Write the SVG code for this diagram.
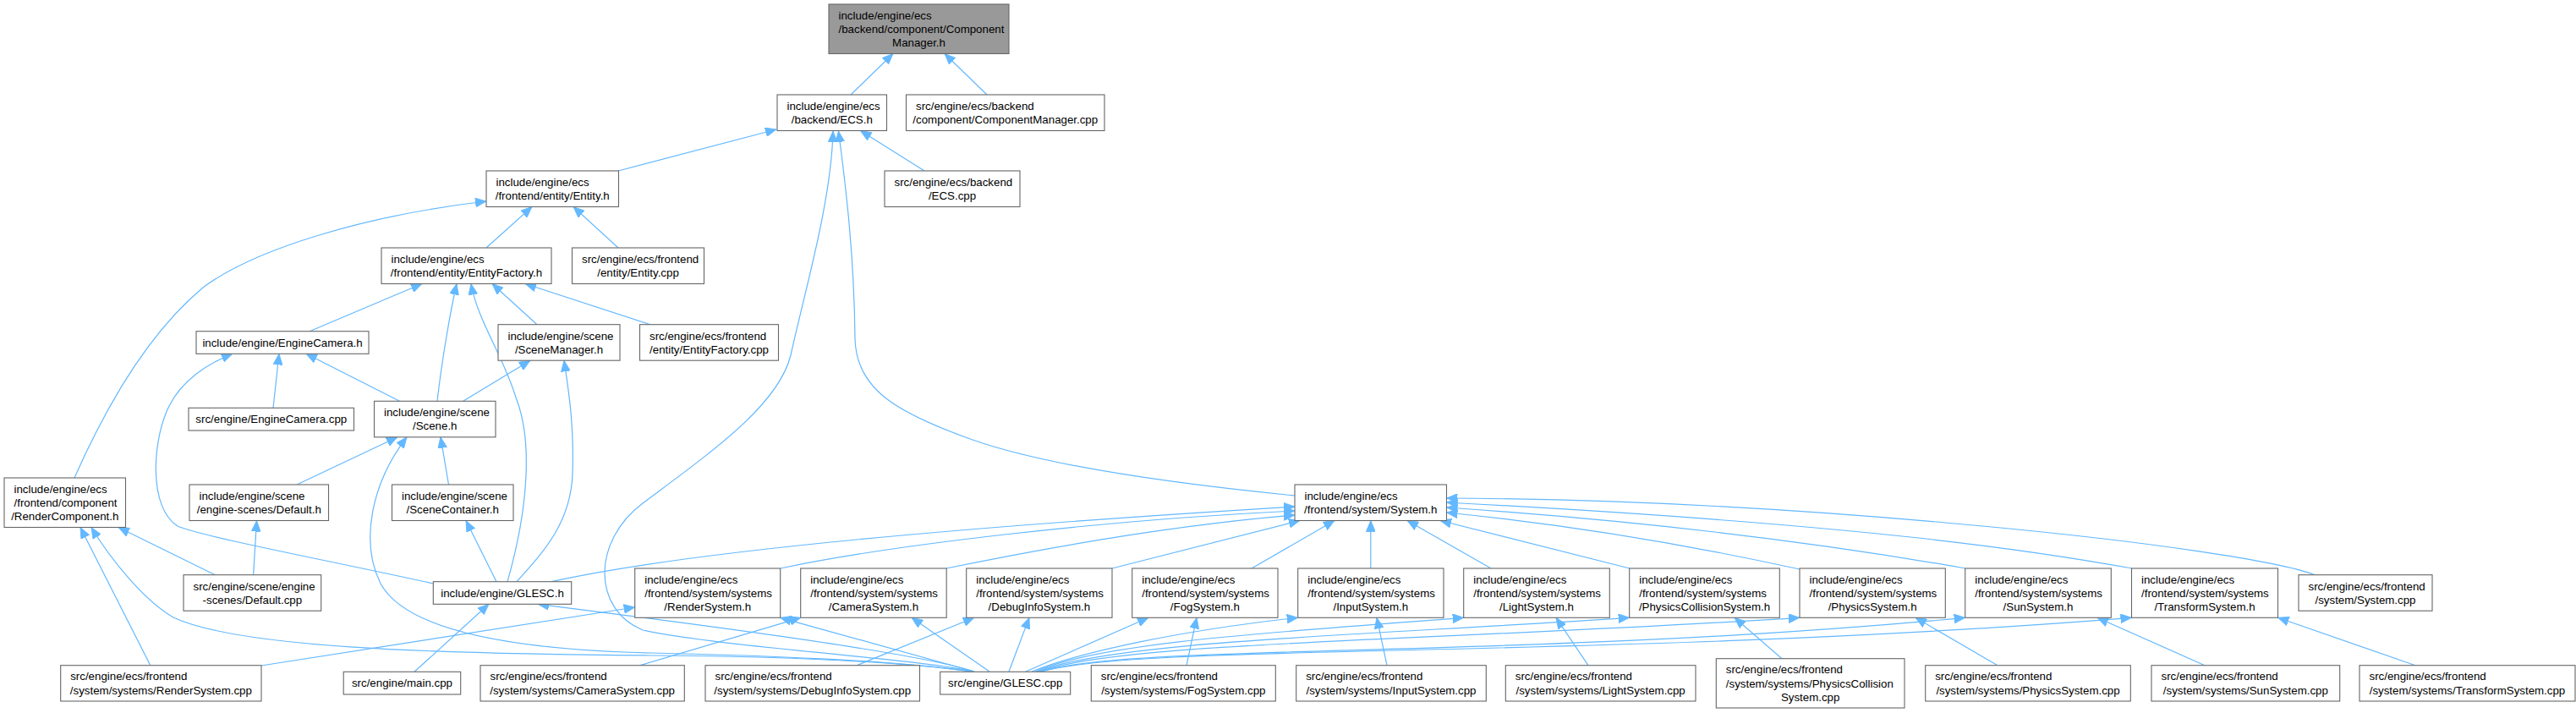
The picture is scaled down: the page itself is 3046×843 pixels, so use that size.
<svg xmlns="http://www.w3.org/2000/svg" width="3046" height="843" viewBox="0 0 3046 843">
<defs>
<style>
.n rect{fill:#ffffff;stroke:#666666;stroke-width:1.1}
.root rect{fill:#999999}
text{font-family:"Liberation Sans",Arial,Helvetica,sans-serif;font-size:13.3px;fill:#000000}
.m{text-anchor:middle}
#edges path{fill:none;stroke:#63b8ff;stroke-width:1.2;marker-end:url(#ah)}
</style>
<marker id="ah" markerUnits="userSpaceOnUse" markerWidth="14" markerHeight="11" refX="13" refY="5.5" orient="auto"><path d="M0,0 L13,5.5 L0,11 z" fill="#63b8ff" stroke="#63b8ff" stroke-width="0.8"/></marker>
</defs>
<rect x="0" y="0" width="3046" height="843" fill="#ffffff"/>
<g id="edges">
<path d="M1006 112 L1056 63.5"/>
<path d="M1167 112 L1117 63.5"/>
<path d="M731 202 L918 153"/>
<path d="M1093 202 L1017.5 154.5"/>
<path d="M1150 794 C1100 780,850 765,760 745 C700 720,700 640,760 595 C840 535,920 480,935 420 C950 350,983 240,985 155"/>
<path d="M1531 586 C1420 575,1250 555,1150 520 C1060 488,1012 460,1011 400 C1010 300,1000 220,991.5 155"/>
<path d="M575 293 L629 244.5"/>
<path d="M731 293 L678 244.5"/>
<path d="M88 565 C130 470,180 390,240 340 C300 295,430 255,575 238"/>
<path d="M366 391.7 L499 335.5"/>
<path d="M517 474.3 C522 430,532 370,540 335.5"/>
<path d="M600 687.7 C625 600,630 520,610 470 C595 420,565 380,557 335.5"/>
<path d="M635 383.7 L582 335.5"/>
<path d="M769 383.7 L621 335.5"/>
<path d="M323 482.3 L330 418.3"/>
<path d="M472.5 474.3 L362 418.3"/>
<path d="M512.3 690 C400 665,240 635,210 622 C175 600,180 520,200 480 C215 450,245 430,275 418.3"/>
<path d="M547.6 474.3 L627 426.2"/>
<path d="M611 687.7 C640 655,675 620,677 560 C679 500,672 460,667 426.2"/>
<path d="M351 573 L470 516.8"/>
<path d="M530.5 573 L521 516.8"/>
<path d="M1150 794 C1050 780,900 775,770 772 C600 768,480 745,450 690 C425 640,440 570,481 516.8"/>
<path d="M587 687.7 L551 615.5"/>
<path d="M299.6 679.7 L303.5 615.5"/>
<path d="M254.4 679.7 L140 623.5"/>
<path d="M177.8 786.7 L95 623.5"/>
<path d="M1148 794 C1050 780,900 776,770 775 C500 773,280 765,205 730 C170 710,130 660,108 623.5"/>
<path d="M490 794.3 L578 714.3"/>
<path d="M1152 794 C1110 780,1000 760,636 714.3"/>
<path d="M652 687.7 C800 655,1100 625,1531 599"/>
<path d="M923 672 C1050 645,1300 615,1531 604"/>
<path d="M1119 672 C1250 645,1400 620,1531 609"/>
<path d="M1315 672 L1537 615.5"/>
<path d="M1480 672 L1578 615.5"/>
<path d="M1620.8 672 L1620.8 615.5"/>
<path d="M1763 672 L1664 615.5"/>
<path d="M1927 672 L1703 615.5"/>
<path d="M2128 673 C2000 645,1850 620,1710.5 606"/>
<path d="M2324 672 C2200 650,2000 620,1710.5 600"/>
<path d="M2521 672 C2400 650,2200 620,1710.5 594"/>
<path d="M2737 679.7 C2700 665,2550 640,2300 618 C2100 600,1900 590,1710.5 589"/>
<path d="M309 787 L750.7 718"/>
<path d="M1152 794 L922.7 730.3"/>
<path d="M757 786.7 L946.7 730.3"/>
<path d="M1170 794 L1078 730.3"/>
<path d="M1013 786.7 L1152 730.3"/>
<path d="M1193 794 L1217 730.3"/>
<path d="M1213 794 L1358 730.3"/>
<path d="M1403 786.7 L1415 730.3"/>
<path d="M1220 794 C1280 770,1400 745,1534.7 730.3"/>
<path d="M1640 786.7 L1628 730.3"/>
<path d="M1224 794 C1300 760,1500 748,1730.7 730.3"/>
<path d="M1878 786.7 L1840 730.3"/>
<path d="M1226 794 C1320 758,1600 752,1926.7 730.3"/>
<path d="M2107 778.7 L2051 730.3"/>
<path d="M1228 794 C1330 758,1700 758,2128 730.3"/>
<path d="M2362 786.7 L2265 730.3"/>
<path d="M1230 794 C1340 760,1800 780,2323.7 730.3"/>
<path d="M2607 786.7 L2480 730.3"/>
<path d="M1232 794 C1350 760,1900 780,2520.5 730.3"/>
<path d="M2856 786.7 L2693.5 730.3"/>
</g>

<g id="ComponentManager_h" class="n root"><rect x="980" y="5" width="213" height="58.5"/><text x="991.5" y="22.7">include/engine/ecs</text><text x="991.5" y="38.95">/backend/component/Component</text><text class="m" x="1086.5" y="55.2">Manager.h</text></g>
<g id="ECS_h" class="n"><rect x="919" y="112" width="129.5" height="42.5"/><text x="930.5" y="129.8">include/engine/ecs</text><text class="m" x="983.75" y="146.1">/backend/ECS.h</text></g>
<g id="ComponentManager_cpp" class="n"><rect x="1071.5" y="112" width="234.5" height="42.5"/><text x="1083" y="129.8">src/engine/ecs/backend</text><text class="m" x="1188.75" y="146.1">/component/ComponentManager.cpp</text></g>
<g id="ECS_cpp" class="n"><rect x="1046" y="202" width="160" height="42.5"/><text x="1057.5" y="219.8">src/engine/ecs/backend</text><text class="m" x="1126" y="236.1">/ECS.cpp</text></g>
<g id="Entity_h" class="n"><rect x="575" y="202" width="156.5" height="42.5"/><text x="586.5" y="219.8">include/engine/ecs</text><text class="m" x="653.25" y="236.1">/frontend/entity/Entity.h</text></g>
<g id="EntityFactory_h" class="n"><rect x="451" y="293" width="201" height="42.5"/><text x="462.5" y="310.8">include/engine/ecs</text><text class="m" x="551.5" y="327.1">/frontend/entity/EntityFactory.h</text></g>
<g id="Entity_cpp" class="n"><rect x="676.5" y="293" width="156" height="42.5"/><text x="688" y="310.8">src/engine/ecs/frontend</text><text class="m" x="754.5" y="327.1">/entity/Entity.cpp</text></g>
<g id="EngineCamera_h" class="n"><rect x="232" y="391.7" width="204" height="26.6"/><text class="m" x="334" y="409.7">include/engine/EngineCamera.h</text></g>
<g id="SceneManager_h" class="n"><rect x="589" y="383.7" width="144" height="42.5"/><text x="600.5" y="401.5">include/engine/scene</text><text class="m" x="661" y="417.8">/SceneManager.h</text></g>
<g id="EntityFactory_cpp" class="n"><rect x="756.5" y="383.7" width="164" height="42.5"/><text x="768" y="401.5">src/engine/ecs/frontend</text><text class="m" x="838.5" y="417.8">/entity/EntityFactory.cpp</text></g>
<g id="EngineCamera_cpp" class="n"><rect x="223" y="482.3" width="195.5" height="26.7"/><text class="m" x="320.75" y="500.3">src/engine/EngineCamera.cpp</text></g>
<g id="Scene_h" class="n"><rect x="442.5" y="474.3" width="143.5" height="42.5"/><text x="454" y="492.1">include/engine/scene</text><text class="m" x="514.25" y="508.4">/Scene.h</text></g>
<g id="RenderComponent_h" class="n"><rect x="5" y="565" width="143.5" height="58.5"/><text x="16.5" y="582.7">include/engine/ecs</text><text x="16.5" y="598.95">/frontend/component</text><text class="m" x="76.75" y="615.2">/RenderComponent.h</text></g>
<g id="Default_h" class="n"><rect x="224" y="573" width="164.5" height="42.5"/><text x="235.5" y="590.8">include/engine/scene</text><text class="m" x="306.25" y="607.1">/engine-scenes/Default.h</text></g>
<g id="SceneContainer_h" class="n"><rect x="463.5" y="573" width="143.5" height="42.5"/><text x="475" y="590.8">include/engine/scene</text><text class="m" x="535.25" y="607.1">/SceneContainer.h</text></g>
<g id="System_h" class="n"><rect x="1531" y="573" width="179.5" height="42.5"/><text x="1542.5" y="590.8">include/engine/ecs</text><text class="m" x="1620.75" y="607.1">/frontend/system/System.h</text></g>
<g id="Default_cpp" class="n"><rect x="217" y="679.7" width="162.7" height="42.5"/><text x="228.5" y="697.5">src/engine/scene/engine</text><text class="m" x="298.35" y="713.8">-scenes/Default.cpp</text></g>
<g id="System_cpp" class="n"><rect x="2718" y="679.7" width="158" height="42.5"/><text x="2729.5" y="697.5">src/engine/ecs/frontend</text><text class="m" x="2797" y="713.8">/system/System.cpp</text></g>
<g id="GLESC_h" class="n"><rect x="512.3" y="687.7" width="163.4" height="26.6"/><text class="m" x="594" y="705.7">include/engine/GLESC.h</text></g>

<g id="RenderSystem_h" class="n"><rect x="750.7" y="672" width="172" height="58.3"/><text x="762.2" y="689.6">include/engine/ecs</text><text x="762.2" y="705.85">/frontend/system/systems</text><text class="m" x="836.7" y="722.1">/RenderSystem.h</text></g>
<g id="CameraSystem_h" class="n"><rect x="946.7" y="672" width="172.5" height="58.3"/><text x="958.2" y="689.6">include/engine/ecs</text><text x="958.2" y="705.85">/frontend/system/systems</text><text class="m" x="1033" y="722.1">/CameraSystem.h</text></g>
<g id="DebugInfoSystem_h" class="n"><rect x="1142.7" y="672" width="172.3" height="58.3"/><text x="1154.2" y="689.6">include/engine/ecs</text><text x="1154.2" y="705.85">/frontend/system/systems</text><text class="m" x="1228.85" y="722.1">/DebugInfoSystem.h</text></g>
<g id="FogSystem_h" class="n"><rect x="1338.7" y="672" width="172.3" height="58.3"/><text x="1350.2" y="689.6">include/engine/ecs</text><text x="1350.2" y="705.85">/frontend/system/systems</text><text class="m" x="1424.85" y="722.1">/FogSystem.h</text></g>
<g id="InputSystem_h" class="n"><rect x="1534.7" y="672" width="172.3" height="58.3"/><text x="1546.2" y="689.6">include/engine/ecs</text><text x="1546.2" y="705.85">/frontend/system/systems</text><text class="m" x="1620.85" y="722.1">/InputSystem.h</text></g>
<g id="LightSystem_h" class="n"><rect x="1730.7" y="672" width="172.6" height="58.3"/><text x="1742.2" y="689.6">include/engine/ecs</text><text x="1742.2" y="705.85">/frontend/system/systems</text><text class="m" x="1817" y="722.1">/LightSystem.h</text></g>
<g id="PhysicsCollisionSystem_h" class="n"><rect x="1926.7" y="672" width="177.6" height="58.3"/><text x="1938.2" y="689.6">include/engine/ecs</text><text x="1938.2" y="705.85">/frontend/system/systems</text><text class="m" x="2015.5" y="722.1">/PhysicsCollisionSystem.h</text></g>
<g id="PhysicsSystem_h" class="n"><rect x="2128" y="672" width="172.3" height="58.3"/><text x="2139.5" y="689.6">include/engine/ecs</text><text x="2139.5" y="705.85">/frontend/system/systems</text><text class="m" x="2214.15" y="722.1">/PhysicsSystem.h</text></g>
<g id="SunSystem_h" class="n"><rect x="2323.7" y="672" width="172.6" height="58.3"/><text x="2335.2" y="689.6">include/engine/ecs</text><text x="2335.2" y="705.85">/frontend/system/systems</text><text class="m" x="2410" y="722.1">/SunSystem.h</text></g>
<g id="TransformSystem_h" class="n"><rect x="2520.5" y="672" width="173" height="58.3"/><text x="2532" y="689.6">include/engine/ecs</text><text x="2532" y="705.85">/frontend/system/systems</text><text class="m" x="2607" y="722.1">/TransformSystem.h</text></g>

<g id="RenderSystem_cpp" class="n"><rect x="71.7" y="786.7" width="237.3" height="42.3"/><text x="83.2" y="804.4">src/engine/ecs/frontend</text><text class="m" x="190.35" y="820.7">/system/systems/RenderSystem.cpp</text></g>
<g id="main_cpp" class="n"><rect x="406.2" y="794.3" width="138.5" height="26.7"/><text class="m" x="475.45" y="812.3">src/engine/main.cpp</text></g>
<g id="CameraSystem_cpp" class="n"><rect x="568" y="786.7" width="241.3" height="42.3"/><text x="579.5" y="804.4">src/engine/ecs/frontend</text><text class="m" x="688.65" y="820.7">/system/systems/CameraSystem.cpp</text></g>
<g id="DebugInfoSystem_cpp" class="n"><rect x="834" y="786.7" width="253.5" height="42.3"/><text x="845.5" y="804.4">src/engine/ecs/frontend</text><text class="m" x="960.75" y="820.7">/system/systems/DebugInfoSystem.cpp</text></g>
<g id="GLESC_cpp" class="n"><rect x="1111.7" y="794.3" width="154" height="26.7"/><text class="m" x="1188.7" y="812.3">src/engine/GLESC.cpp</text></g>
<g id="FogSystem_cpp" class="n"><rect x="1290.3" y="786.7" width="218" height="42.3"/><text x="1301.8" y="804.4">src/engine/ecs/frontend</text><text class="m" x="1399.3" y="820.7">/system/systems/FogSystem.cpp</text></g>
<g id="InputSystem_cpp" class="n"><rect x="1532.7" y="786.7" width="224.6" height="42.3"/><text x="1544.2" y="804.4">src/engine/ecs/frontend</text><text class="m" x="1645" y="820.7">/system/systems/InputSystem.cpp</text></g>
<g id="LightSystem_cpp" class="n"><rect x="1780.3" y="786.7" width="224.7" height="42.3"/><text x="1791.8" y="804.4">src/engine/ecs/frontend</text><text class="m" x="1892.65" y="820.7">/system/systems/LightSystem.cpp</text></g>
<g id="PhysicsCollisionSystem_cpp" class="n"><rect x="2029.3" y="778.7" width="222.7" height="58.3"/><text x="2040.8" y="796.3">src/engine/ecs/frontend</text><text x="2040.8" y="812.55">/system/systems/PhysicsCollision</text><text class="m" x="2140.65" y="828.8">System.cpp</text></g>
<g id="PhysicsSystem_cpp" class="n"><rect x="2276.7" y="786.7" width="242.6" height="42.3"/><text x="2288.2" y="804.4">src/engine/ecs/frontend</text><text class="m" x="2398" y="820.7">/system/systems/PhysicsSystem.cpp</text></g>
<g id="SunSystem_cpp" class="n"><rect x="2544" y="786.7" width="222.7" height="42.3"/><text x="2555.5" y="804.4">src/engine/ecs/frontend</text><text class="m" x="2655.35" y="820.7">/system/systems/SunSystem.cpp</text></g>
<g id="TransformSystem_cpp" class="n"><rect x="2790" y="786.7" width="255" height="42.3"/><text x="2801.5" y="804.4">src/engine/ecs/frontend</text><text class="m" x="2917.5" y="820.7">/system/systems/TransformSystem.cpp</text></g>
</svg>
